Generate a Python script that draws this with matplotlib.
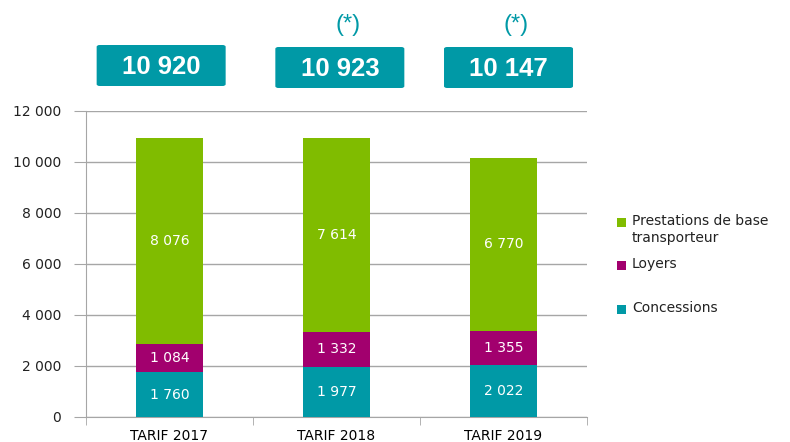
import matplotlib
matplotlib.use("Agg")
import matplotlib.pyplot as plt
from matplotlib.patches import FancyBboxPatch, Rectangle

# tariff components per year (stacked bottom to top)
categories = ["TARIF 2017", "TARIF 2018", "TARIF 2019"]
concessions = [1760, 1977, 2022]
loyers = [1084, 1332, 1355]
prestations = [8076, 7614, 6770]
starred = [False, True, True]

series_names = ["Concessions", "Loyers", "Prestations de base\ntransporteur"]
series_colours = ["#0099A6", "#A2006E", "#80BC00"]
TEAL = "#0099A6"
GRID = "#A6A6A6"


def fmt(v):
    return f"{v:,}".replace(",", " ")


fig = plt.figure(figsize=(7.9, 4.42), dpi=100)
ax = fig.add_axes([86 / 790, 25 / 442, 501 / 790, 306.5 / 442])

x = list(range(len(categories)))
bottom = [0] * len(categories)
for values, colour in zip([concessions, loyers, prestations], series_colours):
    ax.bar(x, values, width=0.4, bottom=bottom, color=colour, zorder=3)
    for i, v in enumerate(values):
        ax.text(i, bottom[i] + v / 2, fmt(v), ha="center", va="center",
                color="white", fontsize=10, zorder=4)
    bottom = [b + v for b, v in zip(bottom, values)]
totals = bottom

ax.set_xlim(-0.5, 2.5)
ax.set_ylim(0, 12000)
ax.set_yticks(range(0, 12001, 2000))
ax.set_yticklabels([fmt(v) for v in range(0, 12001, 2000)], fontsize=10)
ax.yaxis.grid(True, color=GRID, lw=1, zorder=0)
ax.tick_params(axis="y", length=9, pad=9, labelcolor="#222222", color=GRID)

ax.set_xticks(x)
ax.set_xticklabels(categories, fontsize=10)
ax.set_xticks([-0.5, 0.5, 1.5, 2.5], minor=True)
ax.tick_params(axis="x", which="major", length=0, pad=9)
ax.tick_params(axis="x", which="minor", length=6, color=GRID)

for side in ["top", "right"]:
    ax.spines[side].set_visible(False)
for side in ["left", "bottom"]:
    ax.spines[side].set_color(GRID)

# total boxes above each bar
fig.canvas.draw()
to_fig = ax.transData + fig.transFigure.inverted()
box_w, box_h = 129 / 790, 41 / 442
box_shift = [-0.05, 0.02, 0.03]
box_top = [45, 47, 47]
for i, total in enumerate(totals):
    cx = to_fig.transform((i + box_shift[i], 0))[0]
    y0 = 1 - (box_top[i] + 41) / 442
    fig.patches.append(FancyBboxPatch(
        (cx - box_w / 2, y0), box_w, box_h,
        boxstyle="round,pad=0,rounding_size=0.004",
        transform=fig.transFigure, facecolor=TEAL, edgecolor="none"))
    fig.text(cx, y0 + box_h / 2 - 0.004, fmt(total), ha="center", va="center",
             color="white", fontsize=18.5, fontweight="bold",
             family="Liberation Sans")
    if starred[i]:
        fig.text(cx + 0.01, 1 - 25 / 442, "(*)", ha="center", va="center",
                 color=TEAL, fontsize=17, family="Liberation Sans")

# legend, top entry first
legend_y = [222, 265, 309]
for name, colour, ly in zip(series_names[::-1], series_colours[::-1], legend_y):
    fy = 1 - ly / 442
    fig.patches.append(Rectangle((617 / 790, fy - 4.5 / 442), 9 / 790, 9 / 442,
                                 transform=fig.transFigure, facecolor=colour,
                                 edgecolor="none"))
    fig.text(632 / 790, fy + 8 / 442, name, ha="left", va="top",
             fontsize=10, color="#222222", linespacing=1.25)

fig.savefig("out.png", dpi=100)
